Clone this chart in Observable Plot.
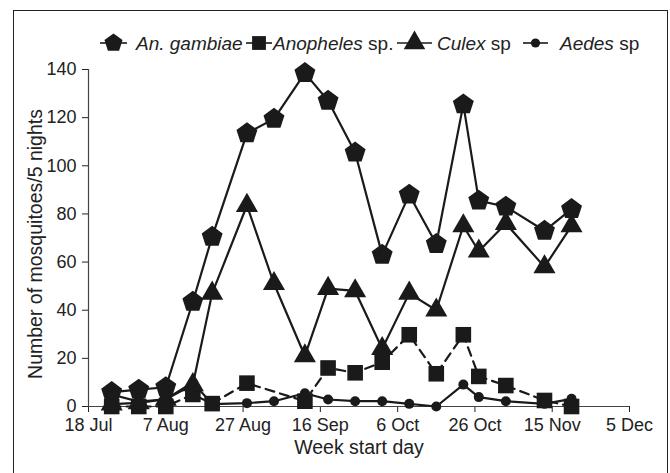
<!DOCTYPE html>
<html>
<head>
<meta charset="utf-8">
<script src="https://cdn.jsdelivr.net/npm/d3@7"></script>
<script src="https://cdn.jsdelivr.net/npm/@observablehq/plot@0.6"></script>
<style>
  html, body { margin: 0; padding: 0; background: #fff; }
  body { width: 670px; height: 473px; position: relative; overflow: hidden; font-family: "Liberation Sans", Arial, sans-serif; color: #222; }
  #frame { position: absolute; left: 13px; top: 10px; width: 655px; height: 480px; border: 1.5px solid #222; box-sizing: border-box; pointer-events: none; }
  #chart { position: absolute; left: 0; top: 0; }
  #legend { position: absolute; left: 0; top: 30px; width: 670px; height: 26px; }
</style>
</head>
<body>
<div id="chart"></div>
<svg id="legend" width="670" height="26"></svg>
<div id="frame"></div>
<script>
// ---- data ----
const weekStart = ["2009-07-24","2009-07-31","2009-08-07","2009-08-14","2009-08-19","2009-08-28","2009-09-04","2009-09-12","2009-09-18","2009-09-25","2009-10-02","2009-10-09","2009-10-16","2009-10-23","2009-10-27","2009-11-03","2009-11-13","2009-11-20"];
const anGambiae = [6, 7, 8, 43.5, 70.5, 113.5, 119.5, 138.5, 127, 105.5, 63, 88, 67.5, 125.5, 85.5, 83, 73, 82];
const anophelesSp = [0, 0, 0, 5, 1.2, 9.7, null, 2.2, 16, 14, 18.4, 29.8, 13.6, 29.8, 12.5, 8.7, 2.5, 0];
const culexSp = [1, 1.5, 3, 9, 47, 83.5, 51, 21, 49, 48, 24, 47, 40, 75, 64.5, 76, 58, 75];
const aedesSp = [5, 2, 3, 10, 1, 1.4, 2.2, 5.5, 2.9, 2.2, 2.2, 1.1, 0, 9.1, 3.9, 2.2, 1.1, 3.2];
const seriesNames = ["An. gambiae", "Anopheles sp.", "Culex sp", "Aedes sp"];
const legendItalic = ["An. gambiae", "Anopheles", "Culex", "Aedes"];
const legendRoman = ["", " sp.", " sp", " sp"];
const xTickDates = ["2009-07-18","2009-08-07","2009-08-27","2009-09-16","2009-10-06","2009-10-26","2009-11-15","2009-12-05"];
const yTicks = [0, 20, 40, 60, 80, 100, 120, 140];
const xTitle = "Week start day";
const yTitle = "Number of mosquitoes/5 nights";

// ---- build ----
const parse = d3.utcParse("%Y-%m-%d");
const dates = weekStart.map(parse);
const tickDates = xTickDates.map(parse);
const seriesValues = [anGambiae, anophelesSp, culexSp, aedesSp];
const rows = [];
seriesNames.forEach((name, si) => {
  seriesValues[si].forEach((v, i) => {
    if (v != null) rows.push({series: name, date: dates[i], value: v});
  });
});
const ofSeries = name => rows.filter(d => d.series === name);

const pentagon = {
  draw(context, size) {
    const R = Math.sqrt(size / Math.PI);
    for (let i = 0; i < 5; i++) {
      const a = -Math.PI / 2 + i * 2 * Math.PI / 5;
      const x = R * Math.cos(a), y = R * Math.sin(a);
      if (i === 0) context.moveTo(x, y); else context.lineTo(x, y);
    }
    context.closePath();
  }
};
const symbols = [pentagon, d3.symbolSquare, d3.symbolTriangle, d3.symbolCircle];
const radii = [11, 8.8, 8.2, 5];
const dashes = [null, "9,6", null, null];
const ink = "#1a1a1a";

const marks = [
  Plot.ruleX([tickDates[0]], {stroke: "#444", strokeWidth: 1.2}),
  Plot.ruleY([0], {stroke: "#444", strokeWidth: 1.2})
];
seriesNames.forEach((name, si) => {
  marks.push(Plot.line(ofSeries(name), {x: "date", y: "value", stroke: ink, strokeWidth: 2.2, strokeDasharray: dashes[si]}));
});
seriesNames.forEach((name, si) => {
  marks.push(Plot.dot(ofSeries(name), {x: "date", y: "value", symbol: () => symbols[si], r: radii[si], fill: ink, stroke: "none"}));
});
marks.push(Plot.text([xTitle], {text: d => d, frameAnchor: "bottom", textAnchor: "middle", lineAnchor: "middle", dy: 41, fontSize: 19.5, fill: "#222"}));
marks.push(Plot.text([yTitle], {text: d => d, frameAnchor: "left", textAnchor: "middle", lineAnchor: "middle", dx: -53, dy: 6, rotate: -90, fontSize: 19.5, fill: "#222"}));

const fmt = d3.utcFormat("%-d %b");
const chart = Plot.plot({
  width: 670,
  height: 473,
  marginLeft: 88,
  marginRight: 41,
  marginTop: 69,
  marginBottom: 67,
  style: {fontFamily: "'Liberation Sans', Arial, sans-serif", fontSize: "18px", color: "#222", background: "transparent", overflow: "visible"},
  x: {type: "utc", domain: [tickDates[0], tickDates[tickDates.length - 1]], ticks: tickDates, tickFormat: fmt, tickSize: 6, tickPadding: 6, label: null},
  y: {domain: [0, 140], ticks: yTicks, tickSize: 6, tickPadding: 6, label: null},
  marks
});
document.getElementById("chart").appendChild(chart);

// ---- legend ----
const legend = d3.select("#legend");
const lineX = [[100, 127], [246, 272], [397, 432], [523, 548]];
const textX = [136, 273, 437, 560];
const legendR = [9.5, 7.8, 8, 4.6];
const cy = 13;
seriesNames.forEach((name, si) => {
  const [x1, x2] = lineX[si];
  legend.append("line").attr("x1", x1).attr("x2", x2).attr("y1", cy).attr("y2", cy)
    .attr("stroke", ink).attr("stroke-width", 1.6);
  legend.append("path").attr("transform", `translate(${(x1 + x2) / 2},${cy})`)
    .attr("d", d3.symbol(symbols[si], Math.PI * legendR[si] * legendR[si])()).attr("fill", ink);
  const t = legend.append("text").attr("x", textX[si]).attr("y", cy).attr("dy", "0.35em")
    .attr("font-size", 19).attr("fill", "#222").attr("font-family", "'Liberation Sans', Arial, sans-serif");
  t.append("tspan").attr("font-style", "italic").text(legendItalic[si]);
  if (legendRoman[si]) t.append("tspan").text(legendRoman[si]);
});
</script>
</body>
</html>
